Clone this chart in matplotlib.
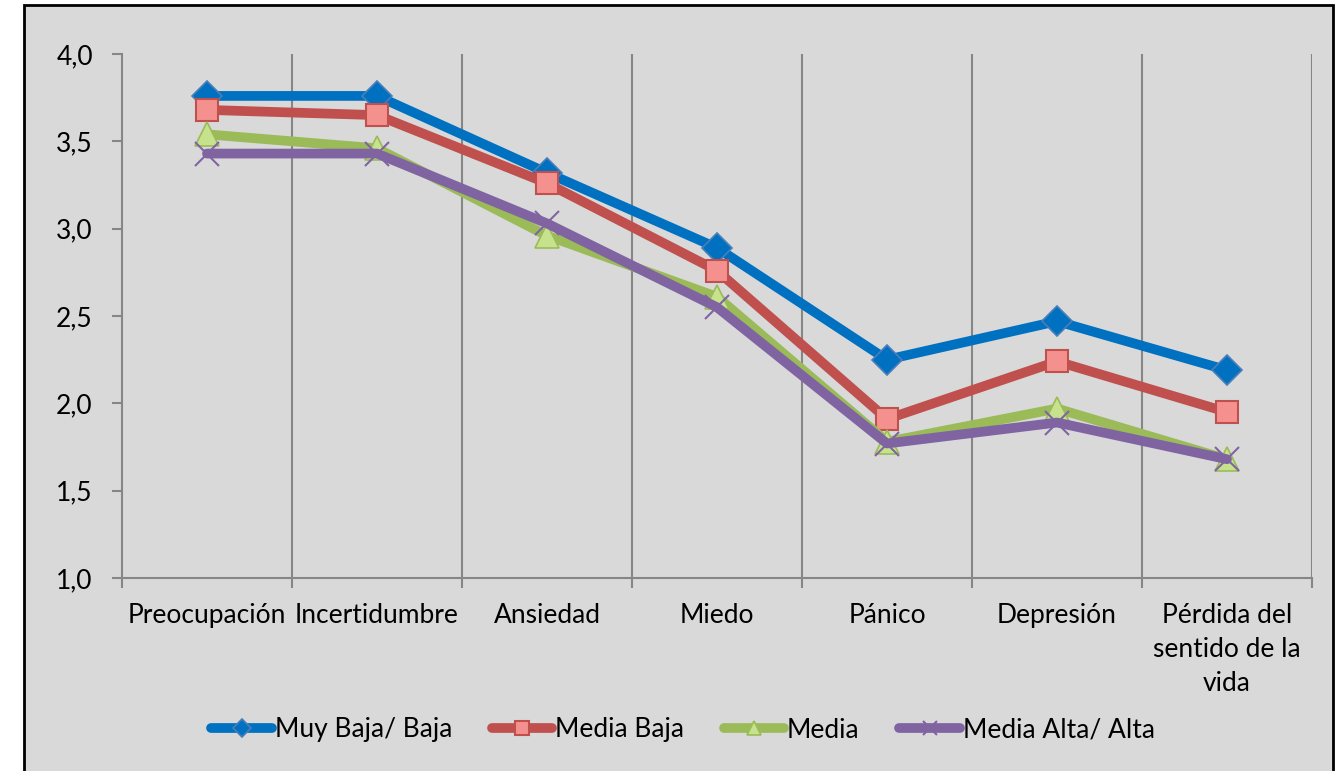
import matplotlib
matplotlib.use("Agg")
import matplotlib.pyplot as plt
from matplotlib.patches import Rectangle
from matplotlib.ticker import FixedLocator, FuncFormatter
import numpy as np

plt.rcParams['font.family'] = ['Lato', 'DejaVu Sans']

categorias = ["Preocupación", "Incertidumbre", "Ansiedad", "Miedo", "Pánico",
              "Depresión", "Pérdida del\nsentido de la\nvida"]
muy_baja_baja = [3.76, 3.76, 3.32, 2.89, 2.25, 2.47, 2.19]
media_baja = [3.68, 3.65, 3.26, 2.76, 1.91, 2.24, 1.95]
media = [3.54, 3.46, 2.96, 2.61, 1.78, 1.97, 1.68]
media_alta_alta = [3.43, 3.43, 3.03, 2.55, 1.77, 1.89, 1.68]
series_nombres = ["Muy Baja/ Baja", "Media Baja", "Media", "Media Alta/ Alta"]
y_ticks = [1.0, 1.5, 2.0, 2.5, 3.0, 3.5, 4.0]

fig = plt.figure(figsize=(13.42, 7.71), dpi=100)
fig.patch.set_facecolor("white")
# gray chart area with black border
fig.patches.append(Rectangle((24 / 1342, -0.02), (1333 - 24) / 1342, 1.02 - 5 / 771,
                             transform=fig.transFigure, facecolor="#d9d9d9",
                             edgecolor="black", linewidth=2, zorder=-10))

ax = fig.add_axes([122 / 1342, 1 - 578 / 771, (1312 - 122) / 1342, (578 - 54) / 771])
ax.set_facecolor("#d9d9d9")

x = np.arange(len(categorias))
estilos = [
    dict(color="#0070c0", marker="D", markersize=15, markerfacecolor="#0070c0",
         markeredgecolor="#4a7ebb", markeredgewidth=1.2),
    dict(color="#c0504d", marker="s", markersize=16, markerfacecolor="#f4918f",
         markeredgecolor="#c0504d", markeredgewidth=1.5),
    dict(color="#9bbb59", marker="^", markersize=17, markerfacecolor="#c6e28c",
         markeredgecolor="#9bbb59", markeredgewidth=1.2),
    dict(color="#8064a2", marker="x", markersize=17, markeredgecolor="#8064a2",
         markeredgewidth=1.5),
]
datos = [muy_baja_baja, media_baja, media, media_alta_alta]
for i, (vals, nombre, st) in enumerate(zip(datos, series_nombres, estilos)):
    ax.plot(x, vals, linewidth=7, label=nombre, solid_capstyle="round",
            solid_joinstyle="round", zorder=3 + i, **st)

ax.set_xlim(-0.5, len(categorias) - 0.5)
ax.set_ylim(1.0, 4.0)
ax.yaxis.set_major_locator(FixedLocator(y_ticks))
ax.yaxis.set_major_formatter(FuncFormatter(lambda v, p: f"{v:.1f}".replace(".", ",")))
ax.set_xticks(x)
ax.set_xticklabels(categorias, fontsize=19, linespacing=1.45)
ax.xaxis.set_minor_locator(FixedLocator(np.arange(-0.5, len(categorias), 1.0)))
ax.tick_params(axis="x", which="major", length=0, pad=18)
ax.tick_params(axis="x", which="minor", length=7, color="#868686", width=1.5)
ax.tick_params(axis="y", length=7, color="#868686", width=1.5, labelsize=19, pad=14)
for b in np.arange(0.5, len(categorias), 1.0):
    ax.axvline(b, color="#868686", linewidth=1.5, zorder=1)

for s in ["top", "right"]:
    ax.spines[s].set_visible(False)
for s in ["left", "bottom"]:
    ax.spines[s].set_color("#868686")
    ax.spines[s].set_linewidth(1.5)

ax.legend(loc="center", bbox_to_anchor=(683 / 1342, 1 - 730 / 771),
          bbox_transform=fig.transFigure, ncol=4, frameon=False, fontsize=19,
          handlelength=2.3, handletextpad=0.1, columnspacing=1.5, markerscale=0.6)

fig.savefig("out.png", dpi=100, facecolor=fig.get_facecolor())
